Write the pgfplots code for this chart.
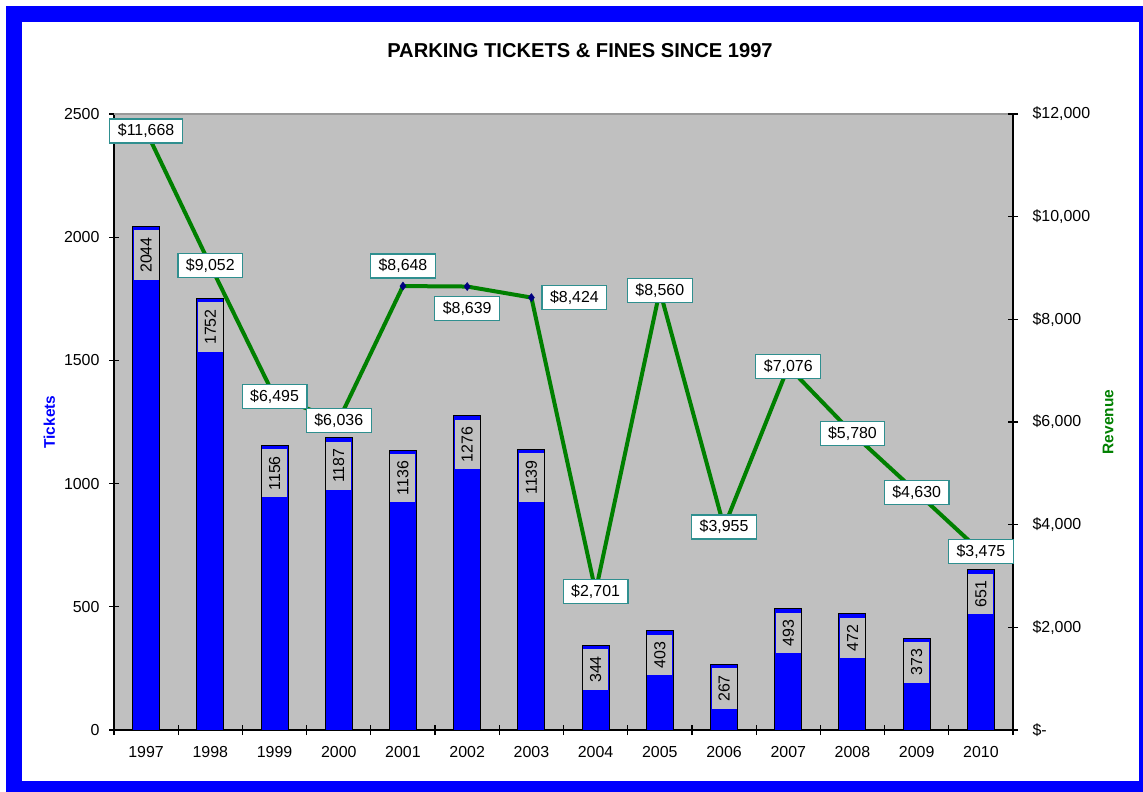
\documentclass[border=0pt]{standalone}
\usepackage{pgfplots}
\pgfplotsset{compat=1.18}
\usepackage{fontspec}
\setmainfont{Liberation Sans}
\definecolor{plotgray}{HTML}{C0C0C0}
\definecolor{frameblue}{HTML}{0000FF}
\definecolor{linegreen}{HTML}{008000}
\definecolor{boxteal}{HTML}{2F8F8F}
\definecolor{navy}{HTML}{000080}
\definecolor{topgray}{HTML}{999999}

\pgfplotstableread{
x y lab
0 2044 2044
1 1752 1752
2 1156 1156
3 1187 1187
4 1136 1136
5 1276 1276
6 1139 1139
7 344 344
8 403 403
9 267 267
10 493 493
11 472 472
12 373 373
13 651 651
}\tickets

\pgfplotstableread{
x y dx dy lab
0 11668 0 0 {\$11,668}
1 9052 0 0 {\$9,052}
2 6495 0 0 {\$6,495}
3 6036 0 0 {\$6,036}
4 8648 0 20 {\$8,648}
5 8639 0 -22 {\$8,639}
6 8424 43 0 {\$8,424}
7 2701 0 0 {\$2,701}
8 8560 0 0 {\$8,560}
9 3955 0 0 {\$3,955}
10 7076 0 0 {\$7,076}
11 5780 0 0 {\$5,780}
12 4630 0 0 {\$4,630}
13 3475 0 0 {\$3,475}
}\revenue

\begin{document}
\begin{tikzpicture}[x=1bp,y=1bp]
\path[use as bounding box, clip] (0,0) rectangle (1143,-792);
\fill[white] (0,0) rectangle (1143,-792);
\fill[frameblue] (6,-6) rectangle (1160,-810);
\fill[white] (22,-22) rectangle (1139,-781);
\node[font=\fontsize{20.2}{24}\selectfont\bfseries] at (580,-51) {PARKING TICKETS \& FINES SINCE 1997};

\begin{axis}[
  at={(114bp,-730bp)}, anchor=south west,
  scale only axis, width=899bp, height=616bp,
  xmin=-0.5, xmax=13.5, ymin=0, ymax=2500,
  axis x line*=bottom, axis y line*=left,
  axis line style={line width=2bp, black},
  axis background/.style={fill=plotgray},
  clip=false,
  ybar, bar width=27bp,
  xtick={0,...,13},
  xticklabels={1997,1998,1999,2000,2001,2002,2003,2004,2005,2006,2007,2008,2009,2010},
  major x tick style={draw=none},
  minor xtick={-0.5,0.5,...,13.5},
  ytick={0,500,1000,1500,2000,2500},
  yticklabels={0,500,1000,1500,2000,2500},
  tick align=center,
  major tick length=10bp, minor tick length=10bp,
  every tick/.style={black, line width=1.2bp},
  minor x tick style={black, line width=1.2bp},
  tick label style={font=\fontsize{16}{19}\selectfont},
  xticklabel style={yshift=-8bp},
  yticklabel style={xshift=-6bp},
  ylabel={Tickets},
  every axis y label/.style={at={(axis description cs:-0.072,0.5)}, rotate=90, anchor=center,
     font=\fontsize{15.5}{18}\selectfont\bfseries, text=frameblue},
]
\draw[topgray, line width=2.5bp] (rel axis cs:0,1) -- (rel axis cs:1,1);
\addplot[fill=frameblue, draw=black, line width=1bp,
  nodes near coords, point meta=explicit symbolic,
  nodes near coords align={anchor=east},
  every node near coord/.append style={rotate=90, fill=plotgray, text=black,
    inner xsep=7bp, inner ysep=0bp, minimum height=25bp, outer xsep=4bp,
    font=\fontsize{16}{19}\selectfont}]
  table[x=x, y=y, meta=lab] {\tickets};
\end{axis}

\begin{axis}[
  at={(114bp,-730bp)}, anchor=south west,
  scale only axis, width=899bp, height=616bp,
  xmin=-0.5, xmax=13.5, ymin=0, ymax=12000,
  axis x line=none, axis y line*=right,
  axis line style={line width=2bp, black},
  clip=false,
  scaled y ticks=false,
  ytick={0,2000,4000,6000,8000,10000,12000},
  yticklabels={{\$-},{\$2,000},{\$4,000},{\$6,000},{\$8,000},{\$10,000},{\$12,000}},
  tick align=center,
  major tick length=10bp,
  every tick/.style={black, line width=1.2bp},
  tick label style={font=\fontsize{16}{19}\selectfont},
  yticklabel style={xshift=11bp},
  ylabel={Revenue},
  every axis y label/.style={at={(axis description cs:1.1057,0.5)}, rotate=90, anchor=center,
     font=\fontsize{15.5}{18}\selectfont\bfseries, text=linegreen},
]
\addplot[linegreen, line width=4bp, mark=diamond*, mark size=4bp,
  mark options={fill=navy, draw=navy, line width=0.5bp},
  nodes near coords, point meta=explicit symbolic,
  visualization depends on={\thisrow{dx}\as\dx},
  visualization depends on={\thisrow{dy}\as\dy},
  nodes near coords align={anchor=center},
  every node near coord/.append style={xshift=\dx bp, yshift=\dy bp,
    fill=white, draw=boxteal, line width=1.2bp, text=black,
    inner xsep=8bp, inner ysep=0bp, minimum height=24bp,
    font=\fontsize{16}{19}\selectfont}]
  table[x=x, y=y, meta=lab] {\revenue};
\end{axis}
\end{tikzpicture}
\end{document}
